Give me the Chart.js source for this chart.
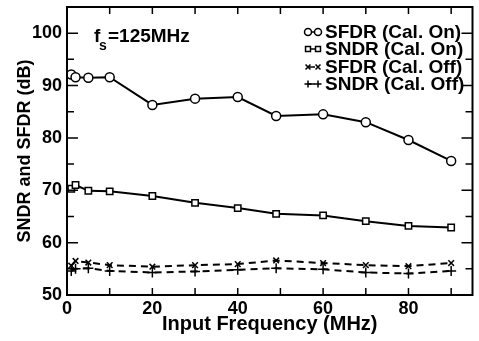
<!DOCTYPE html>
<html>
<head>
<meta charset="utf-8">
<script src="https://cdn.jsdelivr.net/npm/chart.js@4/dist/chart.umd.min.js"></script>
<style>
  html, body { margin: 0; padding: 0; background: #fff; }
  #wrap { width: 479px; height: 341px; }
</style>
</head>
<body>
<div id="wrap"><canvas id="myChart"></canvas></div>
<script>
// data
const freqs = [1, 2, 5, 10, 20, 30, 40, 49, 60, 70, 80, 90];
const sfdrOn = [92.1, 91.6, 91.5, 91.6, 86.3, 87.5, 87.8, 84.2, 84.5, 83.0, 79.6, 75.6];
const sndrOn = [70.3, 71.0, 69.9, 69.8, 68.9, 67.6, 66.6, 65.5, 65.2, 64.1, 63.2, 62.9];
const sfdrOff = [55.6, 56.5, 56.2, 55.7, 55.4, 55.7, 55.9, 56.6, 56.1, 55.7, 55.5, 56.1];
const sndrOff = [54.6, 55.0, 55.1, 54.6, 54.3, 54.5, 54.8, 55.1, 54.9, 54.3, 54.1, 54.6];
const seriesNames = ['SFDR (Cal. On)', 'SNDR (Cal. On)', 'SFDR (Cal. Off)', 'SNDR (Cal. Off)'];
const xTicks = [0, 20, 40, 60, 80];
const yTicks = [50, 60, 70, 80, 90, 100];

const FONT = 'Liberation Sans, Arial, Helvetica, sans-serif';

function pts(ys) {
  return freqs.map((x, i) => ({ x: x, y: ys[i] }));
}

// frame, inward ticks, legend and fs note
const decor = {
  id: 'decor',
  afterDraw(chart) {
    const c = chart.ctx;
    const a = chart.chartArea;
    const xs = chart.scales.x, ys = chart.scales.y;
    c.save();
    c.strokeStyle = '#000';
    c.lineWidth = 2;
    c.strokeRect(a.left, a.top, a.right - a.left, a.bottom - a.top);

    c.lineWidth = 1.5;
    c.beginPath();
    for (let v = 0; v <= 90; v += 10) {
      const px = xs.getPixelForValue(v);
      c.moveTo(px, a.bottom); c.lineTo(px, a.bottom - 7);
      c.moveTo(px, a.top); c.lineTo(px, a.top + 7);
    }
    for (let v = 50; v <= 100; v += 5) {
      const py = ys.getPixelForValue(v);
      const len = v % 10 === 0 ? 11 : 7;
      c.moveTo(a.left, py); c.lineTo(a.left + len, py);
      c.moveTo(a.right, py); c.lineTo(a.right - len, py);
    }
    c.stroke();

    // f_s = 125MHz
    c.fillStyle = '#000';
    c.textBaseline = 'alphabetic';
    c.font = 'bold 19px ' + FONT;
    c.fillText('f', 94, 42);
    c.font = 'bold 14px ' + FONT;
    c.fillText('s', 99, 50);
    c.font = 'bold 19px ' + FONT;
    c.fillText('=125MHz', 108, 42);

    // legend
    const rows = [32, 49, 67, 84];
    chart.data.datasets.forEach((ds, i) => {
      const y = rows[i];
      c.save();
      c.lineWidth = 1.5;
      c.strokeStyle = '#000';
      c.setLineDash(ds.borderDash || []);
      c.beginPath(); c.moveTo(308, y); c.lineTo(318, y); c.stroke();
      c.restore();
      [308, 318].forEach(px => {
        c.save();
        c.strokeStyle = '#000';
        c.fillStyle = '#fff';
        c.lineWidth = 1.5;
        Chart.helpers.drawPoint(c, { pointStyle: ds.pointStyle, radius: 3.5, borderWidth: 1.5 }, px, y);
        c.restore();
      });
      c.fillStyle = '#000';
      c.font = 'bold 19px ' + FONT;
      c.textBaseline = 'middle';
      c.fillText(ds.label, 325, y + 1);
    });
    c.restore();
  }
};

function series(label, ys, style, radius, dashed) {
  return {
    label: label,
    data: pts(ys),
    borderColor: '#000',
    borderWidth: 2,
    borderDash: dashed ? [7, 5] : [],
    pointStyle: style,
    pointRadius: radius,
    pointBorderWidth: 1.5,
    pointBorderColor: '#000',
    pointBackgroundColor: '#fff',
    tension: 0
  };
}

const ctx = document.getElementById('myChart');
new Chart(ctx, {
  type: 'line',
  data: {
    datasets: [
      series(seriesNames[0], sfdrOn, 'circle', 4.5, false),
      series(seriesNames[1], sndrOn, 'rect', 4.5, false),
      series(seriesNames[2], sfdrOff, 'crossRot', 4, true),
      series(seriesNames[3], sndrOff, 'cross', 5, true)
    ]
  },
  options: {
    responsive: true,
    maintainAspectRatio: false,
    animation: false,
    layout: { padding: { top: 7, right: 2, left: 0, bottom: 0 } },
    plugins: {
      legend: { display: false },
      tooltip: { enabled: false }
    },
    scales: {
      x: {
        type: 'linear',
        min: 0,
        max: 95,
        afterBuildTicks: s => { s.ticks = xTicks.map(v => ({ value: v })); },
        afterFit: s => { s.height = 46; s.paddingLeft = 0; s.paddingRight = 0; },
        grid: { display: false, drawTicks: false },
        border: { display: false },
        ticks: { color: '#000', font: { family: FONT, size: 18, weight: 'bold' }, padding: 3, maxRotation: 0 },
        title: {
          display: true,
          text: 'Input Frequency (MHz)',
          color: '#000',
          font: { family: FONT, size: 20, weight: 'bold' },
          padding: { top: 0, bottom: 5 }
        }
      },
      y: {
        min: 50,
        max: 105,
        afterBuildTicks: s => { s.ticks = yTicks.map(v => ({ value: v })); },
        afterFit: s => { s.width = 67; s.paddingTop = 0; s.paddingBottom = 0; },
        grid: { display: false, drawTicks: false },
        border: { display: false },
        ticks: { color: '#000', font: { family: FONT, size: 18, weight: 'bold' }, padding: 5 },
        title: {
          display: true,
          text: 'SNDR and SFDR (dB)',
          color: '#000',
          font: { family: FONT, size: 18, weight: 'bold' },
          padding: { top: 14, bottom: 0 }
        }
      }
    }
  },
  plugins: [decor]
});
</script>
</body>
</html>
